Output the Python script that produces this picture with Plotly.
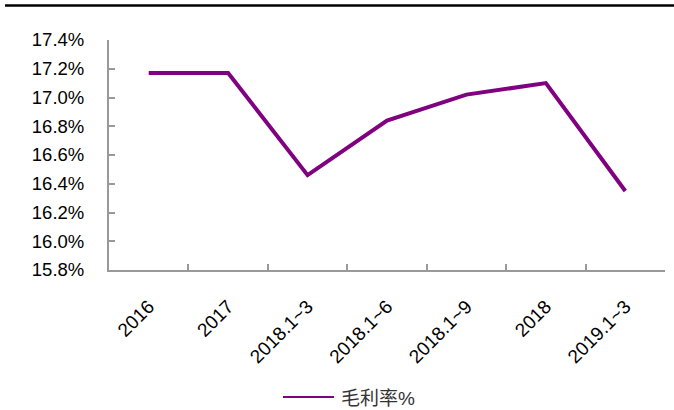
import plotly.graph_objects as go

categories = ["2016", "2017", "2018.1~3", "2018.1~6", "2018.1~9", "2018", "2019.1~3"]
gross_margin = [17.17, 17.17, 16.46, 16.84, 17.02, 17.10, 16.35]
y_ticks = [15.8, 16.0, 16.2, 16.4, 16.6, 16.8, 17.0, 17.2, 17.4]
y_tick_labels = ["%.1f%%" % v for v in y_ticks]
series_name = "毛利率%"

line_color = "#800080"
axis_color = "#999999"

fig = go.Figure()
fig.add_trace(go.Scatter(
    x=categories, y=gross_margin, mode="lines", name=series_name,
    line=dict(color=line_color, width=4), showlegend=False,
))

plot_w, plot_h = 556, 230
fig.update_layout(
    width=674, height=410,
    margin=dict(l=109, r=9, t=40, b=140),
    paper_bgcolor="white", plot_bgcolor="white",
    font=dict(family="Liberation Sans, Arial, sans-serif", size=18.5, color="#000000"),
    showlegend=False,
    xaxis=dict(
        type="category", tickangle=-45, showgrid=False, zeroline=False,
        showline=True, linecolor=axis_color, linewidth=2,
        ticks="inside", tickcolor=axis_color, ticklen=6, tickwidth=1.5,
        tickson="boundaries", range=[-0.5, 6.5], automargin=False,
        ticklabelstandoff=16, tickfont=dict(size=19),
    ),
    yaxis=dict(
        range=[15.8, 17.4], tickvals=y_ticks, ticktext=y_tick_labels,
        showgrid=False, zeroline=False,
        showline=True, linecolor=axis_color, linewidth=2,
        ticks="inside", tickcolor=axis_color, ticklen=6, tickwidth=1.5,
        ticklabelstandoff=19, automargin=False,
    ),
    shapes=[
        dict(type="line", xref="paper", yref="paper",
             x0=-104/plot_w, x1=1.1, y0=1+34.5/plot_h, y1=1+34.5/plot_h,
             line=dict(color="black", width=2.5)),
        dict(type="line", xref="paper", yref="paper",
             x0=(283-109)/plot_w, x1=(334-109)/plot_w,
             y0=-(397-270)/plot_h, y1=-(397-270)/plot_h,
             line=dict(color=line_color, width=2)),
    ],
    annotations=[
        dict(text=series_name, xref="paper", yref="paper",
             x=(339-109)/plot_w, y=-(398-270)/plot_h, xanchor="left", yanchor="middle",
             showarrow=False,
             font=dict(size=19, color="#333333",
                       family="Liberation Sans, Noto Sans CJK SC, sans-serif")),
    ],
)

fig.write_html("out.html", config={"displayModeBar": False},
               post_script="document.body.style.margin='0px';")
